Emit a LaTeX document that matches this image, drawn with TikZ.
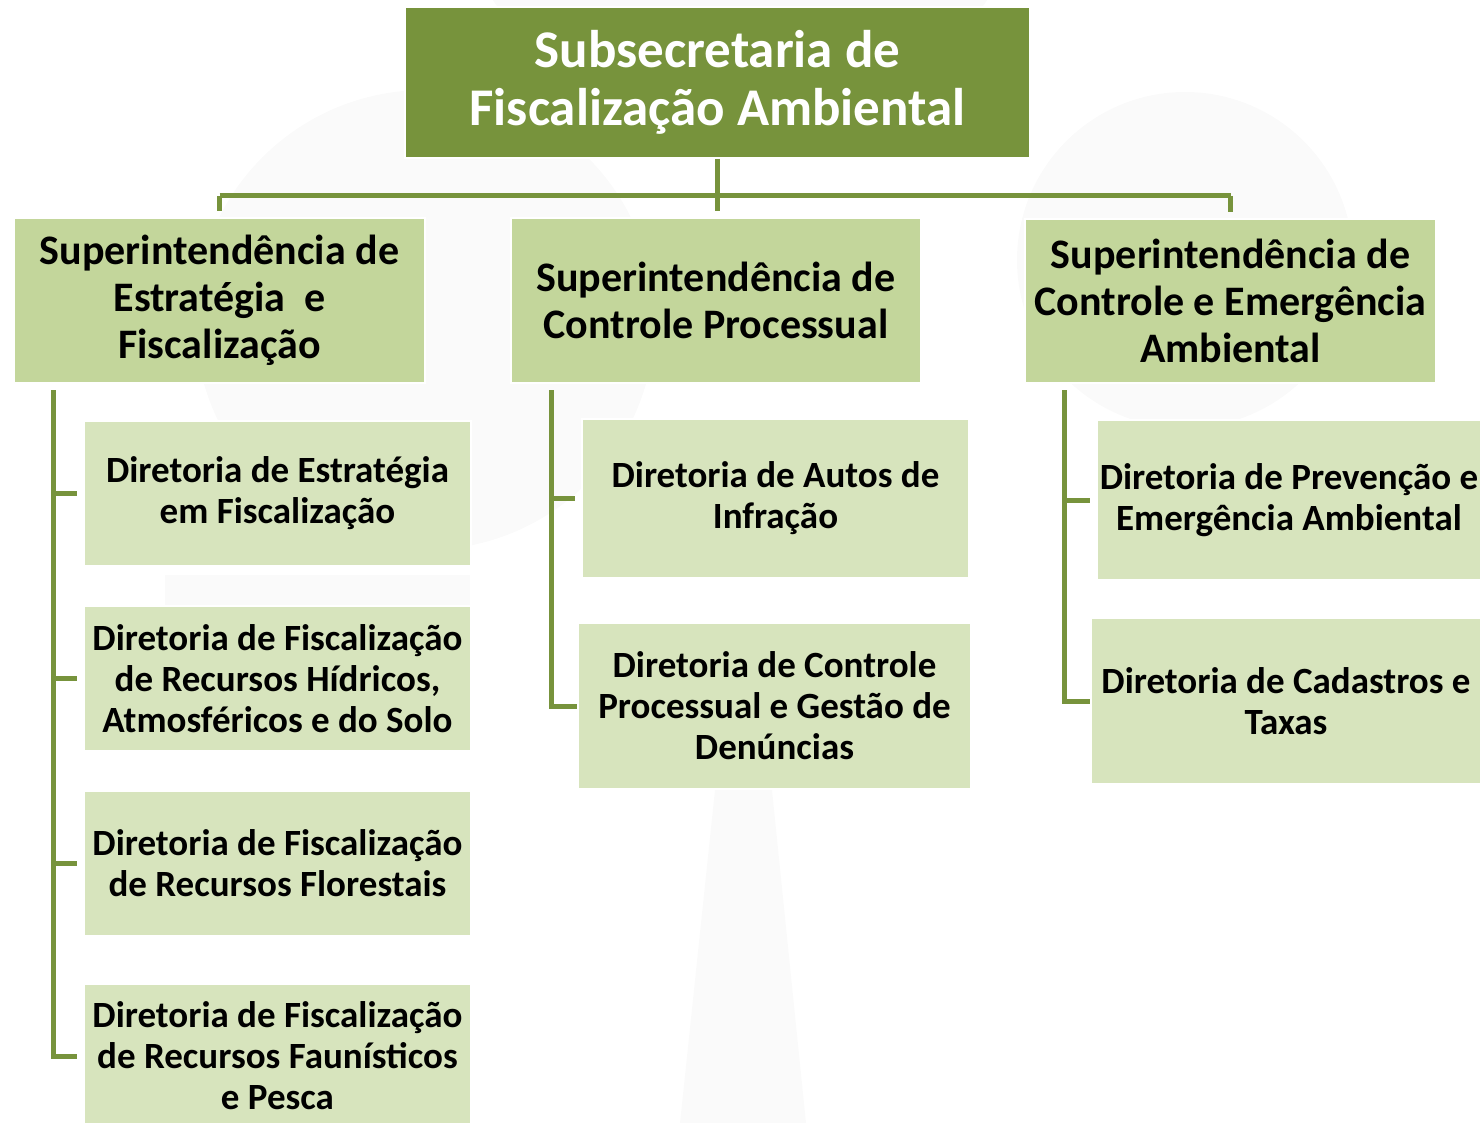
\documentclass[tikz,border=0pt]{standalone}
\usepackage{fontspec}
\setmainfont{Carlito}
\definecolor{dkgreen}{HTML}{77933C}
\definecolor{midgreen}{HTML}{C3D69B}
\definecolor{ltgreen}{HTML}{D7E4BD}
\definecolor{wmark}{HTML}{FAFAFA}
\begin{document}
\begin{tikzpicture}[x=1pt,y=-1pt,
  box/.style={rectangle, inner sep=0pt, align=center, draw=white, line width=2pt, text=black},
  topbox/.style={box, fill=dkgreen, text=white, font=\fontsize{53}{58}\selectfont\bfseries},
  supbox/.style={box, fill=midgreen, font=\fontsize{42}{47}\selectfont\bfseries},
  dirbox/.style={box, fill=ltgreen, font=\fontsize{37}{41}\selectfont\bfseries},
  conn/.style={draw=dkgreen, line width=5pt, line join=miter}
]
\useasboundingbox (0,0) rectangle (1480,1123);
% faint watermark
\fill[wmark] (425,320) circle (230);
\fill[wmark] (1185,260) circle (168);
\fill[wmark] (740,-170) circle (300);
\fill[wmark] (715,790) -- (772,790) -- (806,1123) -- (680,1123) -- cycle;
\fill[wmark] (165,575) rectangle (470,610);

% nodes
\node[topbox, minimum width=625, minimum height=151] (top) at (717.5,82.5) {Subsecretaria de\\Fiscalização Ambiental};

\node[supbox, minimum width=411, minimum height=165] (sA) at (219.5,300.5) {Superintendência de\\Estratégia\ \ e\\Fiscalização};
\node[supbox, minimum width=410, minimum height=165] (sB) at (716,300.5) {Superintendência de\\Controle Processual};
\node[supbox, minimum width=411, minimum height=164] (sC) at (1230.5,301) {Superintendência de\\Controle e Emergência\\Ambiental};

\node[dirbox, minimum width=387, minimum height=145] (a1) at (277.5,493.5) {Diretoria de Estratégia\\em Fiscalização};
\node[dirbox, minimum width=387, minimum height=145] (a2) at (277.5,678.5) {Diretoria de Fiscalização\\de Recursos Hídricos,\\Atmosféricos e do Solo};
\node[dirbox, minimum width=387, minimum height=145] (a3) at (277.5,863.5) {Diretoria de Fiscalização\\de Recursos Florestais};
\node[dirbox, minimum width=387, minimum height=144] (a4) at (277.5,1056) {Diretoria de Fiscalização\\de Recursos Faunísticos\\e Pesca};

\node[dirbox, minimum width=387, minimum height=159] (b1) at (775.5,498.5) {Diretoria de Autos de\\Infração};
\node[dirbox, minimum width=393, minimum height=166] (b2) at (774.5,706) {Diretoria de Controle\\Processual e Gestão de\\Denúncias};

\node[dirbox, minimum width=384, minimum height=160] (c1) at (1289,500) {Diretoria de Prevenção e\\Emergência Ambiental};
\node[dirbox, minimum width=390, minimum height=166] (c2) at (1286,701) {Diretoria de Cadastros e\\Taxas};

% connectors
\coordinate (hb) at (0,196);
\coordinate (la) at (53,0);
\coordinate (lb) at (551,0);
\coordinate (lc) at (1064,0);

\draw[conn, shorten >=6pt] (top.south) -- (top.south |- sB.north);
\draw[conn] (sA.north |- hb) -- (sC.north |- hb);
\draw[conn, shorten >=6pt] (sA.north |- hb) -- (sA.north);
\draw[conn, shorten >=6pt] (sC.north |- hb) -- (sC.north);

\draw[conn] ([yshift=-6pt]la |- sA.south) -- (la |- a4.west) -- ([xshift=-6pt]a4.west);
\draw[conn] (la |- a1.west) -- ([xshift=-6pt]a1.west);
\draw[conn] (la |- a2.west) -- ([xshift=-6pt]a2.west);
\draw[conn] (la |- a3.west) -- ([xshift=-6pt]a3.west);

\draw[conn] ([yshift=-6pt]lb |- sB.south) -- (lb |- b2.west) -- (b2.west);
\draw[conn] (lb |- b1.west) -- ([xshift=-6pt]b1.west);

\draw[conn] ([yshift=-6pt]lc |- sC.south) -- (lc |- c2.west) -- (c2.west);
\draw[conn] (lc |- c1.west) -- ([xshift=-6pt]c1.west);
\end{tikzpicture}
\end{document}
